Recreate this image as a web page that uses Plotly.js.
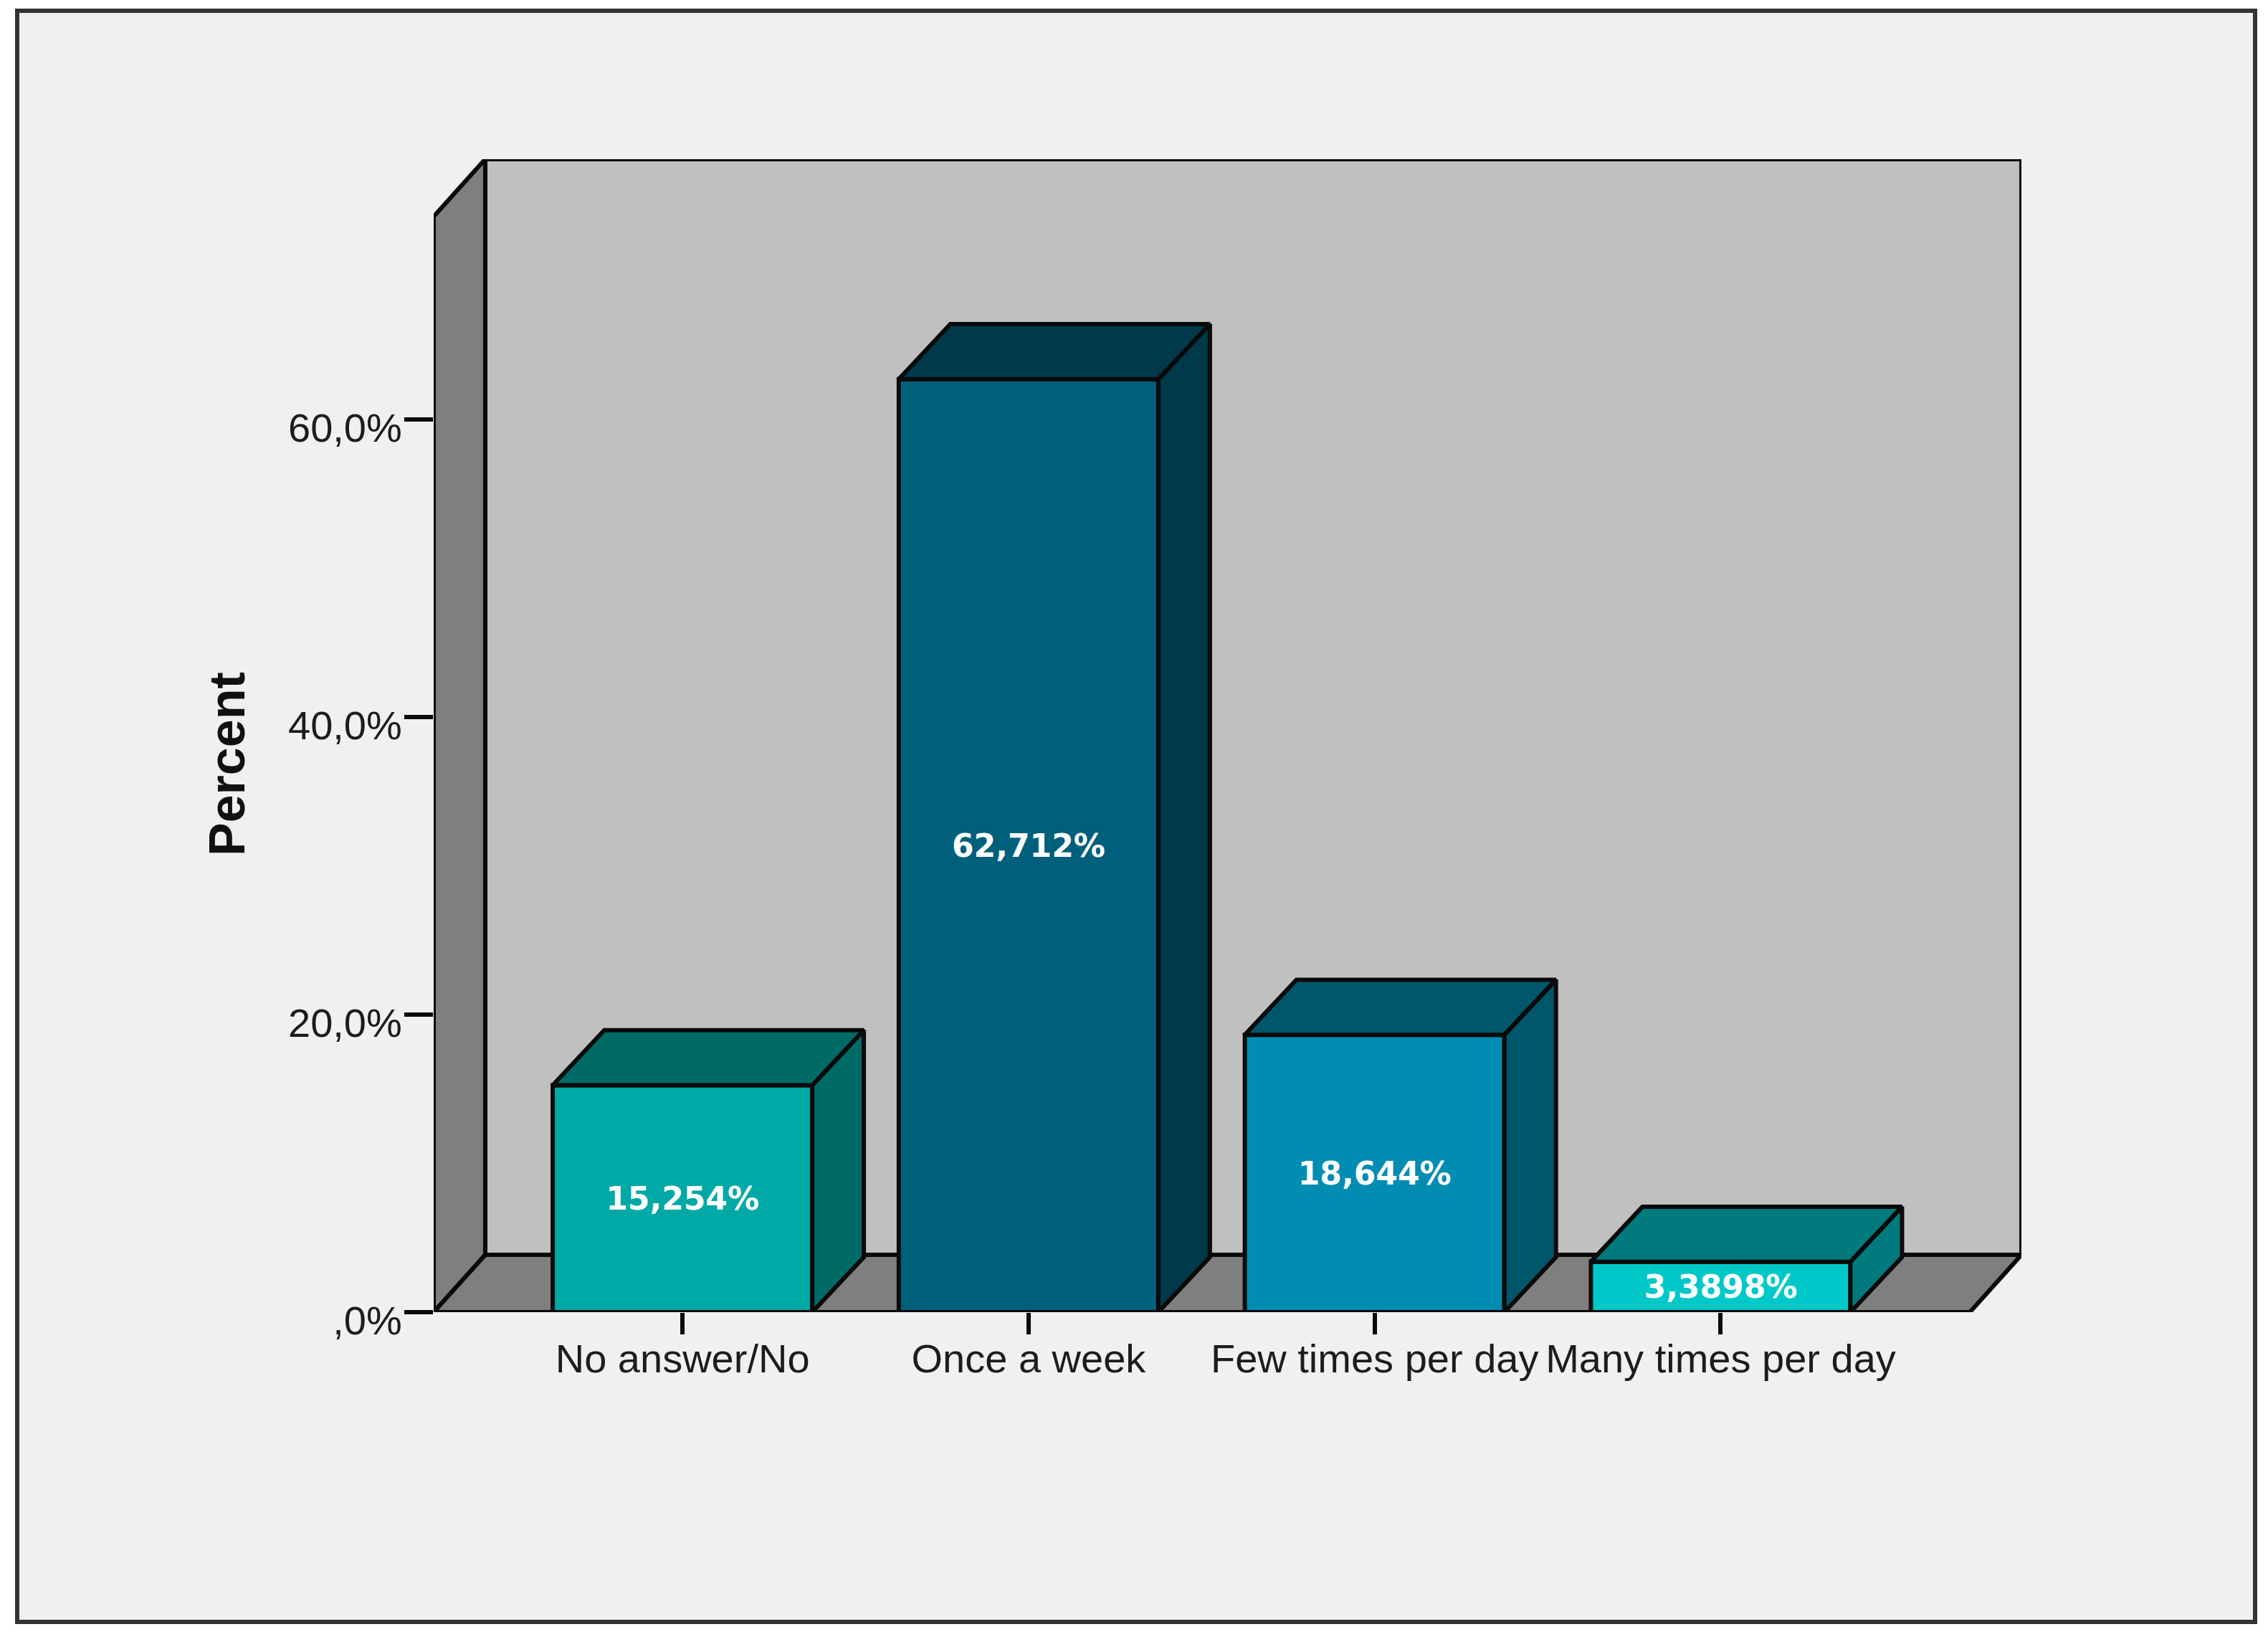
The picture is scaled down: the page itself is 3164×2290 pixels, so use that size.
<!DOCTYPE html>
<html>
<head>
<meta charset="utf-8">
<title>Percent by frequency</title>
<script src="https://cdn.plot.ly/plotly-3.0.1.min.js"></script>
<style>
  html, body { margin:0; padding:0; background:#fff; }
  #chart { width:3164px; height:2290px; }
</style>
</head>
<body>
<div id="chart"></div>
<script>
// Data
const categories = ['No answer/No', 'Once a week', 'Few times per day', 'Many times per day'];
const percents = [15.254, 62.712, 18.644, 3.3898];
const barLabels = ['15,254%', '62,712%', '18,644%', '3,3898%'];
const yTickVals = [0, 20, 40, 60];
const yTickText = [',0%', '20,0%', '40,0%', '60,0%'];

// Colours per bar
const frontColors = ['#00a9a5', '#005f7b', '#008db1', '#00c8c8'];
const sideColors = ['#006a67', '#003a4a', '#00566b', '#007a7d'];

// Pseudo 3D box, in axis units
const barWidth = 0.75;
const depthX = 0.149;
const barDepthY = 3.7;
const wallDepthY = 3.85;
const floorLeft = -0.719, floorRight = 3.72;
const wallTop = 73.65;

const W = 3164, H = 2290;
const M = {l:605, r:344, t:222, b:460};
const edge = {color:'#0a0a0a', width:6};
const px = x => (x - M.l) / (W - M.l - M.r);
const py = y => 1 - (y - M.t) / (H - M.t - M.b);

function polyPath(xs, ys) {
  return 'M' + xs.map((x, i) => x + ',' + ys[i]).join(' L') + ' Z';
}

function facePoly(xs, ys, color) {
  return {x:xs.concat(xs[0]), y:ys.concat(ys[0]), mode:'lines', fill:'toself', fillcolor:color,
    line:edge, hoverinfo:'skip', showlegend:false, cliponaxis:false};
}

const traces = [{
  type:'bar',
  x:categories.map((c, i) => i),
  y:percents,
  width:barWidth,
  marker:{color:frontColors, line:edge},
  text:barLabels,
  textposition:'inside',
  insidetextanchor:'middle',
  textangle:0,
  constraintext:'none',
  textfont:{family:'DejaVu Sans', size:44, color:'#fff', weight:700},
  hoverinfo:'x+y',
  cliponaxis:false,
  showlegend:false
}];

percents.forEach((v, i) => {
  const l = i - barWidth / 2, r = i + barWidth / 2;
  traces.push(facePoly([r, r, r + depthX, r + depthX], [0, v, v + barDepthY, barDepthY], sideColors[i]));
  traces.push(facePoly([l, r, r + depthX, l + depthX], [v, v, v + barDepthY, v + barDepthY], sideColors[i]));
});

const backL = floorLeft + depthX, backR = floorRight + depthX, backT = wallTop + wallDepthY;
const shapes = [
  // outer frame
  {type:'rect', xref:'paper', yref:'paper', layer:'below', x0:px(24), x1:px(3146), y0:py(15), y1:py(2262),
    fillcolor:'#f0f0f0', line:{color:'#333', width:6}},
  // back wall
  {type:'rect', xref:'x', yref:'y', layer:'below', x0:backL, x1:backR, y0:wallDepthY, y1:backT,
    fillcolor:'#c0c0c0', line:edge},
  // left wall
  {type:'path', xref:'x', yref:'y', layer:'below', fillcolor:'#7f7f7f', line:edge,
    path:polyPath([floorLeft, floorLeft, backL, backL], [0, wallTop, backT, wallDepthY])},
  // floor
  {type:'path', xref:'x', yref:'y', layer:'below', fillcolor:'#7f7f7f', line:edge,
    path:polyPath([floorLeft, backL, backR, floorRight], [0, wallDepthY, wallDepthY, 0])}
];

const tickFont = {family:'Liberation Sans, Arial, sans-serif', size:56, color:'#1c1c1c'};

const layout = {
  width:W, height:H,
  margin:M,
  paper_bgcolor:'#fff',
  plot_bgcolor:'rgba(0,0,0,0)',
  showlegend:false,
  xaxis:{
    type:'linear', range:[floorLeft, backR], showgrid:false, zeroline:false, showline:false,
    tickmode:'array', tickvals:categories.map((c, i) => i), ticktext:categories, tickangle:0,
    ticks:'outside', ticklen:30, tickwidth:6, tickcolor:'#0a0a0a', tickfont:tickFont,
    ticklabelstandoff:-14
  },
  yaxis:{
    range:[0, backT], showgrid:false, zeroline:false, showline:false,
    tickmode:'array', tickvals:yTickVals, ticktext:yTickText,
    ticks:'outside', ticklen:40, tickwidth:6, tickcolor:'#0a0a0a', tickfont:tickFont,
    ticklabelshift:11, ticklabelstandoff:-8
  },
  shapes:shapes,
  annotations:[{
    text:'<b>Percent</b>', xref:'paper', yref:'paper', x:px(317), y:py(1066), showarrow:false,
    xanchor:'center', yanchor:'middle',
    textangle:-90, font:{family:'Liberation Sans, Arial, sans-serif', size:70, color:'#111'}
  }]
};

Plotly.newPlot('chart', traces, layout, {displayModeBar:false, responsive:false});
</script>
</body>
</html>
